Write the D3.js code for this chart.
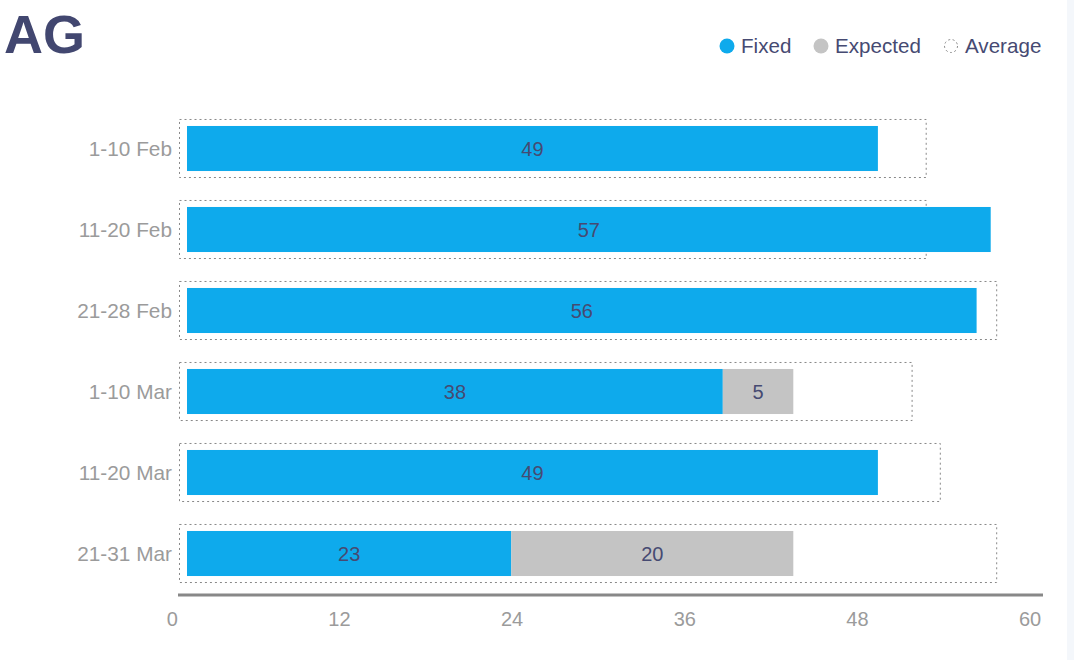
<!DOCTYPE html>
<html>
<head>
<meta charset="utf-8">
<script src="https://cdn.jsdelivr.net/npm/d3@7"></script>
<style>
  body { margin: 0; background: #fff; }
  text { font-family: "Liberation Sans", Arial, sans-serif; }
</style>
</head>
<body>
<script>
// chart data
var categories = ["1-10 Feb", "11-20 Feb", "21-28 Feb", "1-10 Mar", "11-20 Mar", "21-31 Mar"];
var fixed    = [49, 57, 56, 38, 49, 23];
var expected = [0, 0, 0, 5, 0, 20];
var average  = [52, 52, 57, 51, 53, 57];
var tickValues = [0, 12, 24, 36, 48, 60];

var W = 1074, H = 660;
var dark = "#464a72", grey = "#9b9b9b";

var svg = d3.select("body").append("svg")
    .attr("width", W)
    .attr("height", H);

// light strip on the right edge
svg.append("rect")
    .attr("x", 1067).attr("y", 0)
    .attr("width", 7).attr("height", H)
    .attr("fill", "#f4f7fb");

// title
svg.append("text")
    .attr("x", 4).attr("y", 53)
    .attr("font-size", 54)
    .attr("font-weight", "bold")
    .attr("fill", "#424770")
    .text("AG");

// legend
var legend = [
    {name: "Fixed", cx: 727, fill: "#0eaaec", dash: null},
    {name: "Expected", cx: 821, fill: "#c4c4c4", dash: null},
    {name: "Average", cx: 951, fill: "none", dash: "2,2.5"}
];
var lg = svg.append("g").selectAll("g").data(legend).join("g");
lg.append("circle")
    .attr("cx", function(d) { return d.cx; })
    .attr("cy", 46)
    .attr("r", function(d) { return d.dash ? 6.5 : 7.5; })
    .attr("fill", function(d) { return d.fill; })
    .attr("stroke", function(d) { return d.dash ? "#888" : "none"; })
    .attr("stroke-dasharray", function(d) { return d.dash; });
lg.append("text")
    .attr("x", function(d) { return d.cx + 14; })
    .attr("y", 53)
    .attr("font-size", 20.6)
    .attr("fill", dark)
    .text(function(d) { return d.name; });

// scales: bars and the axis use slightly different ranges in the original
var bx = d3.scaleLinear().domain([0, 60]).range([187, 1033]);
var ax = d3.scaleLinear().domain([0, 60]).range([166.3, 1029.6]);
var y = d3.scaleBand()
    .domain(categories)
    .range([108, 594])
    .paddingInner(0.444)
    .paddingOuter(0.222);

var rows = categories.map(function(c, i) {
    return {cat: c, fixed: fixed[i], expected: expected[i], avg: average[i]};
});

// average boxes
svg.append("g").selectAll("rect")
    .data(rows)
    .join("rect")
        .attr("x", 179.5)
        .attr("y", function(d) { return y(d.cat) - 6.5; })
        .attr("width", function(d) { return bx(d.avg) + 6 - 179.5; })
        .attr("height", y.bandwidth() + 13)
        .attr("fill", "none")
        .attr("stroke", "#888")
        .attr("stroke-width", 1)
        .attr("stroke-dasharray", "2,3");

// fixed bars
svg.append("g").selectAll("rect")
    .data(rows)
    .join("rect")
        .attr("x", bx(0))
        .attr("y", function(d) { return y(d.cat); })
        .attr("width", function(d) { return bx(d.fixed) - bx(0); })
        .attr("height", y.bandwidth())
        .attr("fill", "#0eaaec");

// expected bars
svg.append("g").selectAll("rect")
    .data(rows.filter(function(d) { return d.expected > 0; }))
    .join("rect")
        .attr("x", function(d) { return bx(d.fixed); })
        .attr("y", function(d) { return y(d.cat); })
        .attr("width", function(d) { return bx(d.fixed + d.expected) - bx(d.fixed); })
        .attr("height", y.bandwidth())
        .attr("fill", "#c4c4c4");

// value labels
var labels = [];
rows.forEach(function(d) {
    labels.push({cat: d.cat, v: d.fixed, x0: 0, x1: d.fixed});
    if (d.expected > 0) labels.push({cat: d.cat, v: d.expected, x0: d.fixed, x1: d.fixed + d.expected});
});
svg.append("g").selectAll("text")
    .data(labels)
    .join("text")
        .attr("x", function(d) { return (bx(d.x0) + bx(d.x1)) / 2; })
        .attr("y", function(d) { return y(d.cat) + y.bandwidth() / 2 + 7; })
        .attr("text-anchor", "middle")
        .attr("font-size", 20)
        .attr("fill", dark)
        .text(function(d) { return d.v; });

// category labels
svg.append("g").selectAll("text")
    .data(categories)
    .join("text")
        .attr("x", 172)
        .attr("y", function(d) { return y(d) + y.bandwidth() / 2 + 7; })
        .attr("text-anchor", "end")
        .attr("font-size", 20.8)
        .attr("fill", grey)
        .text(function(d) { return d; });

// x axis
var xAxis = svg.append("g")
    .attr("transform", "translate(0,595)")
    .call(d3.axisBottom(ax).tickValues(tickValues).tickSize(0).tickPadding(0));
xAxis.select(".domain").remove();
xAxis.append("line")
    .attr("x1", 178).attr("x2", 1043)
    .attr("y1", 0).attr("y2", 0)
    .attr("stroke", "#888")
    .attr("stroke-width", 3);
xAxis.selectAll(".tick text")
    .attr("y", 31)
    .attr("dy", null)
    .attr("font-size", 20)
    .attr("font-family", "Liberation Sans, Arial, sans-serif")
    .attr("fill", grey)
    .attr("text-anchor", function(d) { return d === 0 ? "start" : "middle"; });
</script>
</body>
</html>
